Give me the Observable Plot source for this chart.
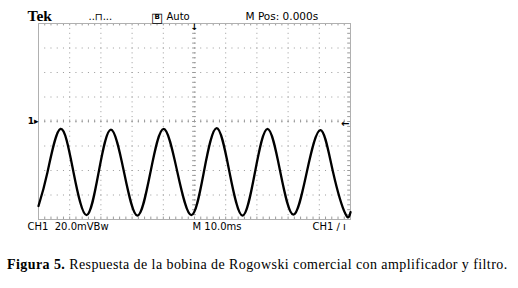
<!DOCTYPE html>
<html><head><meta charset="utf-8">
<script src="https://cdn.jsdelivr.net/npm/d3@7"></script>
<script src="https://cdn.jsdelivr.net/npm/@observablehq/plot@0.6"></script>
<style>
html,body{margin:0;padding:0;background:#fff;}
#chart svg{display:block;}
#cap{font-family:"Liberation Serif","Times New Roman",serif;font-size:14px;letter-spacing:0.42px;color:#000;line-height:1;position:absolute;left:7px;top:257.5px;white-space:nowrap;}
</style></head><body>
<div id="chart"></div>
<div id="cap"><b>Figura 5.</b> Respuesta de la bobina de Rogowski comercial con amplificador y filtro.</div>
<script>
// Time (ms, 10 ms/div) and CH1 level (divisions, 20 mV/div)
const timeMs = [0, 2.9, 7.05, 11.2, 15.4, 19.3, 23.2, 27.4, 31.7, 35.9, 40.1, 44.5, 49.0, 53.0, 57.1, 61.2, 65.4, 69.4, 73.4, 77.5, 81.7, 86.0, 90.4, 94.4, 98.4, 100];
const ch1Div = [-3.45, -2.06, -0.30, -2.06, -3.82, -2.06, -0.33, -2.06, -3.84, -2.06, -0.30, -2.06, -3.82, -2.06, -0.27, -2.06, -3.84, -2.06, -0.30, -2.06, -3.80, -2.06, -0.35, -2.06, -3.78, -3.70];
const trace = timeMs.map((t, i) => ({t, v: ch1Div[i]}));

// Graticule: 10 x 8 divisions, minor marks every 0.2 div
const xGrid = [10, 20, 30, 40, 50, 60, 70, 80, 90];
const yGrid = [-3, -2, -1, 0, 1, 2, 3];
const xMinor = d3.range(0, 100.001, 2);
const yMinor = d3.range(-4, 4.001, 0.2);

// Screen readouts
const headerTek = ["Tek"];
const headerTrig = ["..⊓..."];
const headerMode = ["Auto"];
const headerPos = ["M Pos: 0.000s"];
const footerCh = ["CH1  20.0mVBw"];
const footerTime = ["M 10.0ms"];
const footerTrig = ["CH1 ∕ ı"];

const sans = "DejaVu Sans";
const gridColor = "#9a9a9a";

const chart = Plot.plot({
  width: 518,
  height: 240,
  marginLeft: 38,
  marginRight: 168,
  marginTop: 23,
  marginBottom: 21,
  x: {domain: [0, 100], axis: null},
  y: {domain: [-4, 4], axis: null},
  marks: [
    Plot.ruleX(xGrid, {x: d => d, stroke: gridColor, strokeDasharray: "1,3.9"}),
    Plot.ruleY(yGrid, {y: d => d, stroke: gridColor, strokeDasharray: "1,5.24"}),
    // center crosshair minor ticks
    Plot.ruleY(yMinor, {y: d => d, x1: 49.4, x2: 50.6, stroke: gridColor}),
    Plot.ruleX(xMinor, {x: d => d, y1: -0.06, y2: 0.06, stroke: gridColor}),
    // border minor ticks
    Plot.ruleX(xMinor, {x: d => d, y1: 4, y2: 3.9, stroke: gridColor}),
    Plot.ruleX(xMinor, {x: d => d, y1: -4, y2: -3.9, stroke: gridColor}),
    Plot.ruleY(yMinor, {y: d => d, x1: 99.1, x2: 100, stroke: gridColor}),
    Plot.frame({stroke: "#b0b0b0"}),
    Plot.line(trace, {x: "t", y: "v", curve: "natural", stroke: "#000", strokeWidth: 2.3}),
    // markers
    Plot.text(["1▸"], {y: () => 0, frameAnchor: "left", textAnchor: "end", dx: 0, fontFamily: sans, fontSize: 9, fontWeight: "bold", fill: "#000"}),
    Plot.text(["←"], {y: () => -0.08, frameAnchor: "right", textAnchor: "end", dx: -1, fontFamily: sans, fontSize: 10, fontWeight: "bold", fill: "#000"}),
    Plot.text(["↓"], {x: () => 50, frameAnchor: "top", lineAnchor: "top", dy: 0, fontFamily: sans, fontSize: 9, fontWeight: "bold", fill: "#000"}),
    // header
    Plot.text(headerTek, {frameAnchor: "top-left", textAnchor: "start", lineAnchor: "bottom", dx: -11, dy: -2.5, fontFamily: "Liberation Serif", fontWeight: "bold", fontSize: 15.5, fill: "#000"}),
    Plot.text(headerTrig, {frameAnchor: "top-left", textAnchor: "start", lineAnchor: "bottom", dx: 50, dy: -3.5, fontFamily: sans, fontSize: 10, fill: "#000"}),
    Plot.text(["□"], {frameAnchor: "top-left", textAnchor: "start", lineAnchor: "bottom", dx: 112.5, dy: -2, fontFamily: sans, fontSize: 13, fill: "#000"}),
    Plot.text(["B"], {frameAnchor: "top-left", textAnchor: "start", lineAnchor: "bottom", dx: 116, dy: -4.5, fontFamily: sans, fontSize: 7, fontWeight: "bold", fill: "#000"}),
    Plot.text(headerMode, {frameAnchor: "top-left", textAnchor: "start", lineAnchor: "bottom", dx: 128, dy: -3.5, fontFamily: sans, fontSize: 10, fill: "#000"}),
    Plot.text(headerPos, {frameAnchor: "top-left", textAnchor: "start", lineAnchor: "bottom", dx: 207, dy: -3.5, fontFamily: sans, fontSize: 10.5, fill: "#000"}),
    // footer
    Plot.text(footerCh, {frameAnchor: "bottom-left", textAnchor: "start", lineAnchor: "bottom", dx: -11, dy: 10, fontFamily: sans, fontSize: 10, fill: "#000"}),
    Plot.text(footerTime, {frameAnchor: "bottom-left", textAnchor: "start", lineAnchor: "bottom", dx: 154, dy: 10, fontFamily: sans, fontSize: 10, fill: "#000"}),
    Plot.text(footerTrig, {frameAnchor: "bottom-right", textAnchor: "start", lineAnchor: "bottom", dx: -38, dy: 10, fontFamily: sans, fontSize: 10, fill: "#000"})
  ]
});
document.getElementById("chart").appendChild(chart);
</script>
</body></html>
